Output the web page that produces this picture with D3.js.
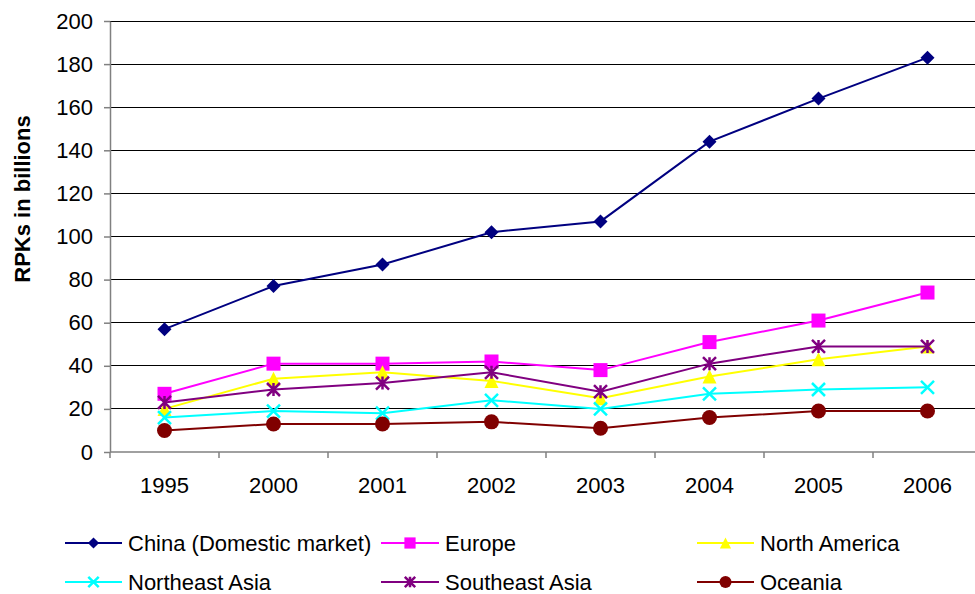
<!DOCTYPE html>
<html><head><meta charset="utf-8">
<script src="https://cdn.jsdelivr.net/npm/d3@7"></script>
<style>body{margin:0;background:#fff}svg{display:block;font-family:"Liberation Sans",Arial,sans-serif}</style>
</head><body><svg id="c" width="975" height="594"></svg>
<script>
const years = ["1995","2000","2001","2002","2003","2004","2005","2006"];
const china = [57,77,87,102,107,144,164,183];
const europe = [27,41,41,42,38,51,61,74];
const northAmerica = [20,34,37,33,25,35,43,49];
const northeastAsia = [16,19,18,24,20,27,29,30];
const southeastAsia = [23,29,32,37,28,41,49,49];
const oceania = [10,13,13,14,11,16,19,19];
const yTicks = [0,20,40,60,80,100,120,140,160,180,200];
const seriesNames = ["China (Domestic market)","Europe","North America","Northeast Asia","Southeast Asia","Oceania"];

const series = [
  {name:seriesNames[0], values:china, color:"#000080", marker:"diamond"},
  {name:seriesNames[1], values:europe, color:"#FF00FF", marker:"square"},
  {name:seriesNames[2], values:northAmerica, color:"#FFFF00", marker:"triangle"},
  {name:seriesNames[3], values:northeastAsia, color:"#00FFFF", marker:"x"},
  {name:seriesNames[4], values:southeastAsia, color:"#800080", marker:"star"},
  {name:seriesNames[5], values:oceania, color:"#800000", marker:"circle"}
];

const svg = d3.select("#c");
const L=110, R=982, T=21, B=452;
const x = d3.scaleBand().domain(years).range([L,R]).padding(0);
const y = d3.scaleLinear().domain([0,200]).range([B,T]);
const cx = d => x(d)+x.bandwidth()/2;

// gridlines
svg.append("g").selectAll("line").data(yTicks.filter(v=>v>0)).join("line")
  .attr("x1",L).attr("x2",R).attr("y1",d=>y(d)).attr("y2",d=>y(d))
  .attr("stroke","#000").attr("stroke-width",1).attr("shape-rendering","crispEdges");

// y axis
const ya = svg.append("g").attr("transform",`translate(${L},0)`)
  .call(d3.axisLeft(y).tickValues(yTicks).tickSize(6).tickPadding(11).tickSizeOuter(0));
ya.select(".domain").attr("stroke","#808080").attr("stroke-width",1.5);
ya.selectAll(".tick line").attr("stroke","#808080").attr("stroke-width",1.5);
ya.selectAll("text").attr("font-size",22).attr("fill","#000").attr("font-family","Liberation Sans, Arial, sans-serif");

// x axis
svg.append("line").attr("x1",L).attr("x2",R).attr("y1",B).attr("y2",B)
  .attr("stroke","#808080").attr("stroke-width",1.5);
svg.append("g").selectAll("line").data(years).join("line")
  .attr("x1",d=>x(d)).attr("x2",d=>x(d)).attr("y1",B).attr("y2",B+6)
  .attr("stroke","#808080").attr("stroke-width",1.5);
svg.append("g").selectAll("text").data(years).join("text")
  .attr("x",d=>cx(d)).attr("y",B+41).attr("text-anchor","middle")
  .attr("font-size",22).attr("fill","#000").text(d=>d);

// y title
svg.append("text").attr("transform","translate(30,199) rotate(-90)")
  .attr("text-anchor","middle").attr("font-size",22).attr("font-weight","bold").text("RPKs in billions");

function drawMarker(g, type, color, s){
  const h=s/2;
  if(type==="diamond") g.append("path").attr("d",`M0,${-h}L${h},0L0,${h}L${-h},0Z`).attr("fill",color);
  else if(type==="square") g.append("rect").attr("x",-h).attr("y",-h).attr("width",s).attr("height",s).attr("fill",color);
  else if(type==="triangle") g.append("path").attr("d",`M0,${-h}L${h},${h}L${-h},${h}Z`).attr("fill",color);
  else if(type==="circle") g.append("circle").attr("r",h).attr("fill",color);
  else if(type==="x") g.append("path").attr("d",`M${-h},${-h}L${h},${h}M${-h},${h}L${h},${-h}`).attr("stroke",color).attr("stroke-width",2.5);
  else if(type==="star") g.append("path").attr("d",`M${-h},${-h}L${h},${h}M${-h},${h}L${h},${-h}M0,${-h}L0,${h}`).attr("stroke",color).attr("stroke-width",2.5);
}
const sizes={diamond:14,square:14,triangle:14,circle:15,x:13,star:13};

const line = d3.line().x((d,i)=>cx(years[i])).y(d=>y(d));
series.forEach(s=>{
  svg.append("path").datum(s.values).attr("d",line).attr("fill","none")
    .attr("stroke",s.color).attr("stroke-width",2);
  s.values.forEach((v,i)=>{
    const g=svg.append("g").attr("transform",`translate(${cx(years[i])},${y(v)})`);
    drawMarker(g,s.marker,s.color,sizes[s.marker]);
  });
});

// legend
const cols=[{lx:65,tx:128},{lx:381,tx:445},{lx:697,tx:760}];
const rows=[543,582];
series.forEach((s,i)=>{
  const c=cols[i%3], r=rows[Math.floor(i/3)];
  const lx2=c.tx-6;
  svg.append("line").attr("x1",c.lx).attr("x2",lx2).attr("y1",r).attr("y2",r).attr("stroke",s.color).attr("stroke-width",2);
  const g=svg.append("g").attr("transform",`translate(${(c.lx+lx2)/2},${r})`);
  drawMarker(g,s.marker,s.color,sizes[s.marker]*0.8);
  svg.append("text").attr("x",c.tx).attr("y",r+8).attr("font-size",22).attr("fill","#000").text(s.name);
});
</script></body></html>
